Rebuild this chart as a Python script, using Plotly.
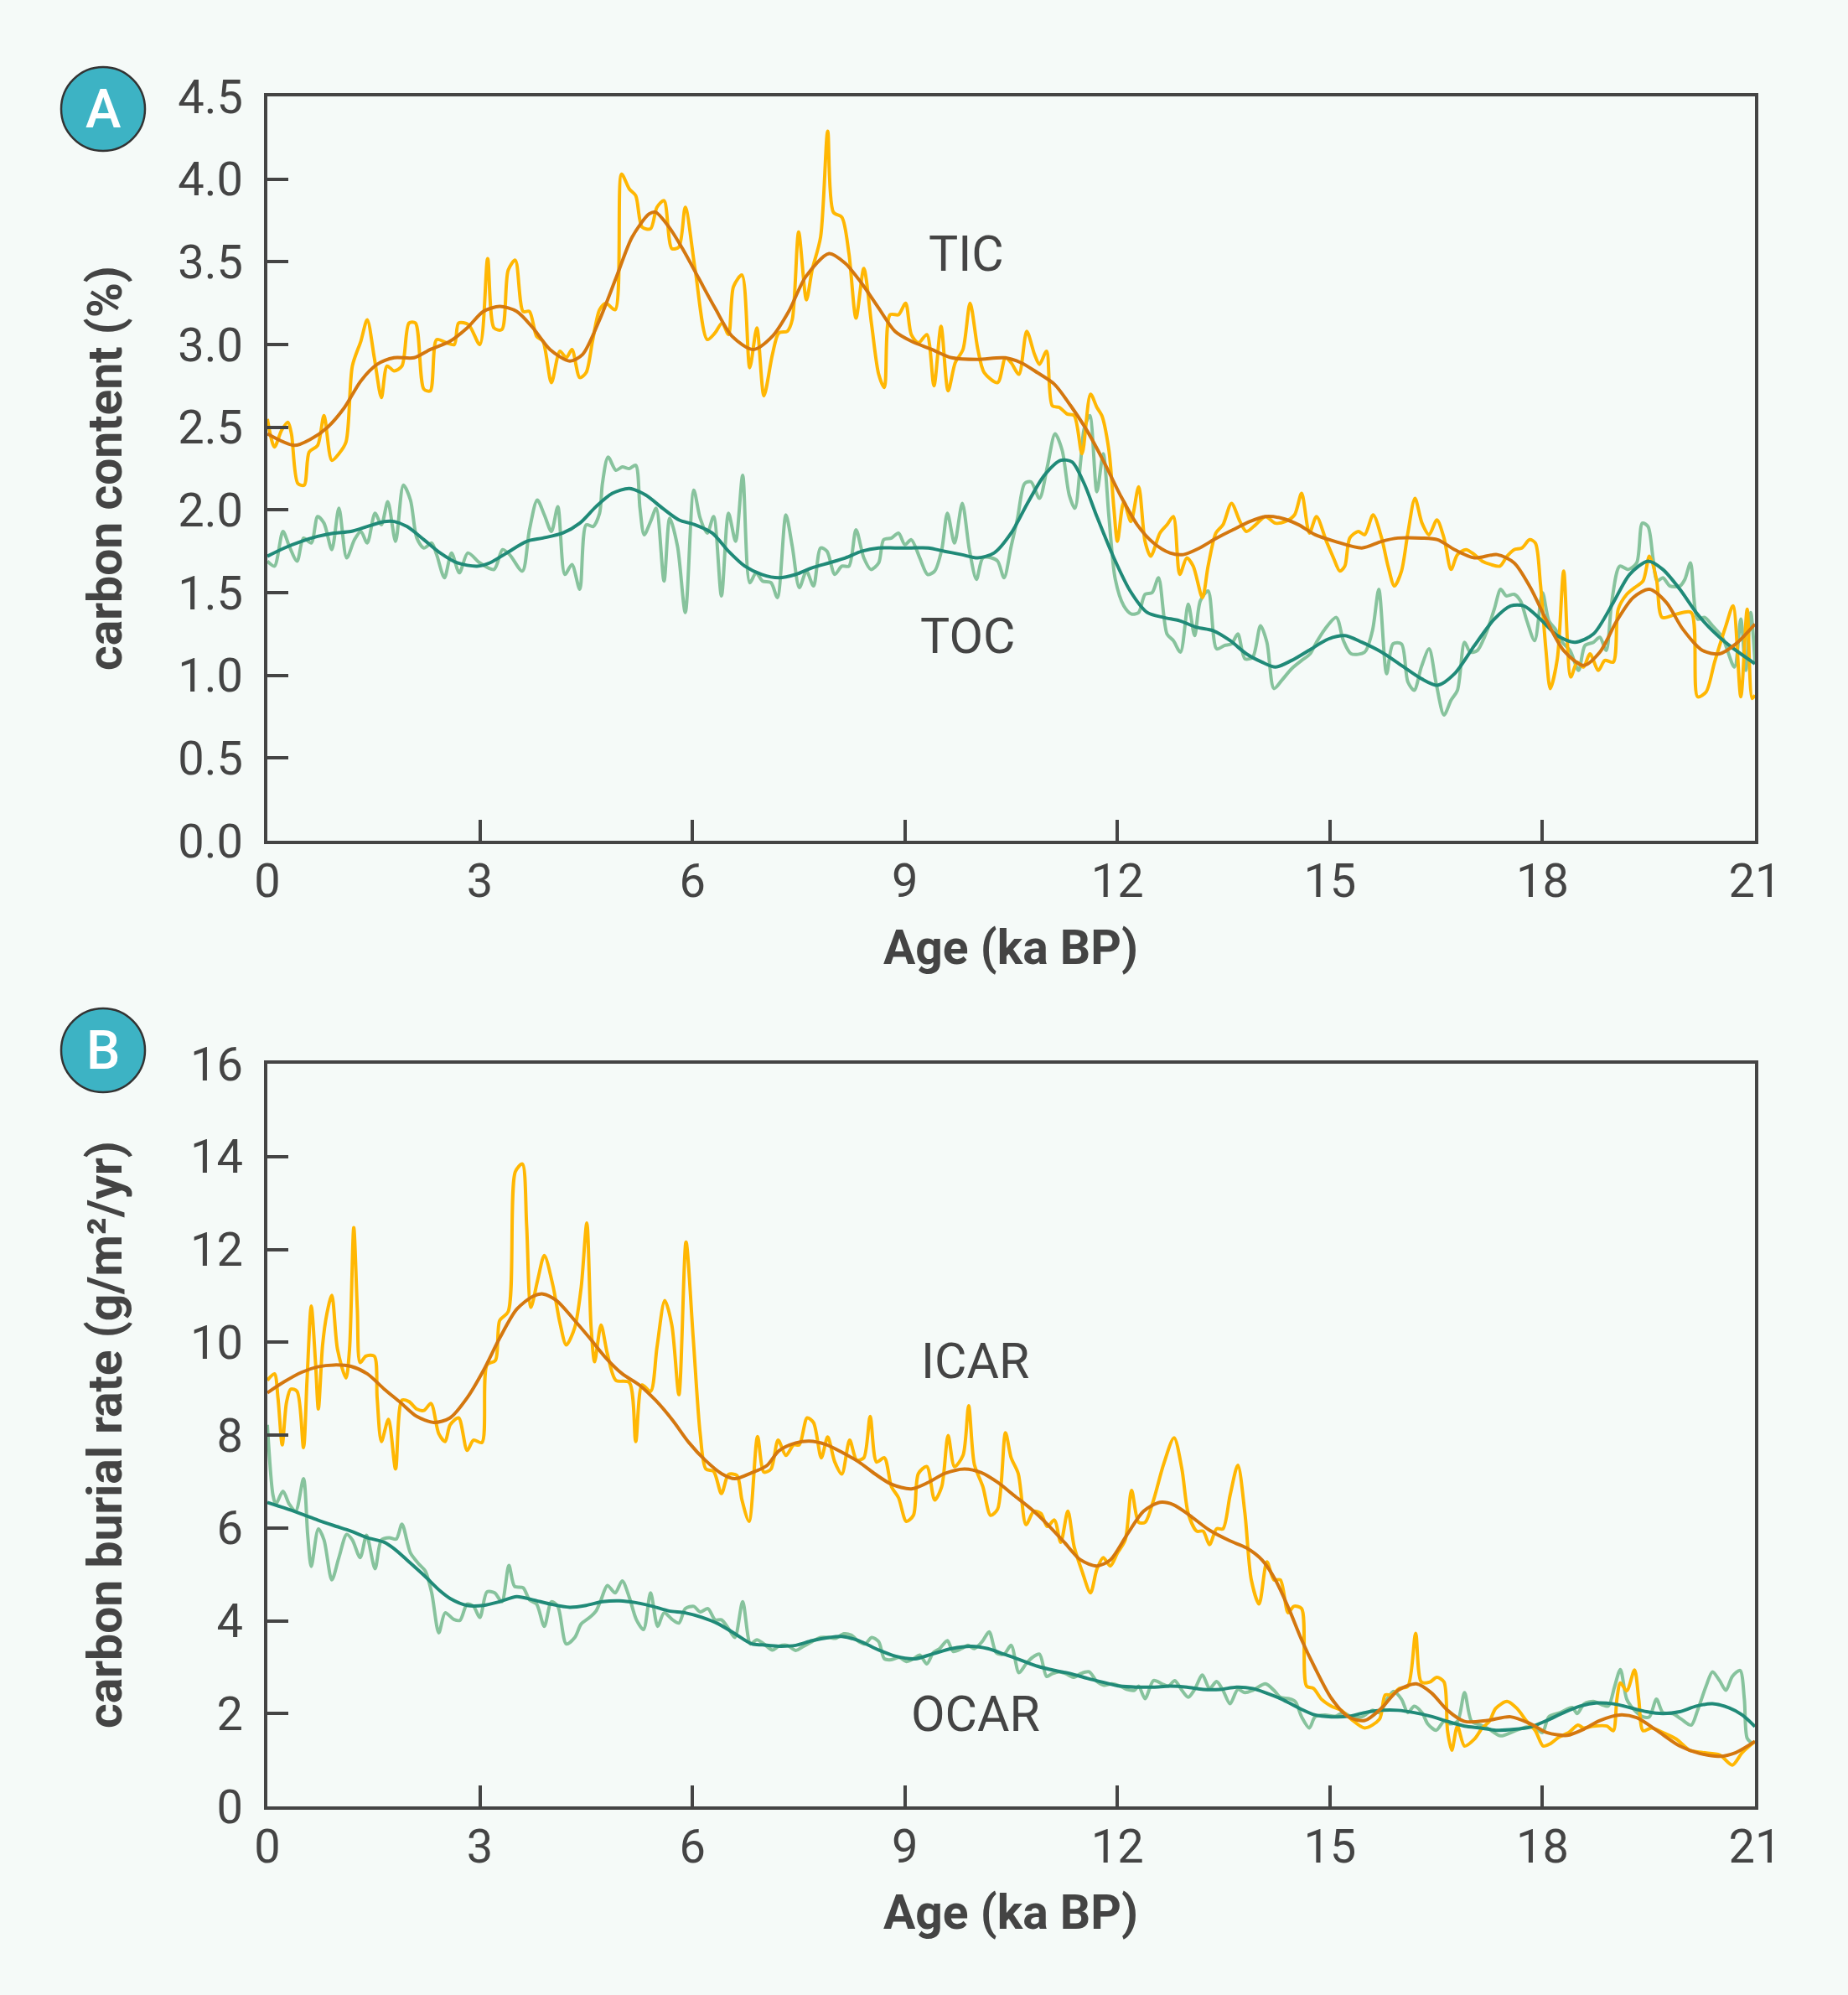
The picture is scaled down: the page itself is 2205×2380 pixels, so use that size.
import plotly.graph_objects as go

# ---------------- data ----------------
tic_age = [0.0, 0.10, 0.20, 0.29, 0.34, 0.43, 0.52, 0.59, 0.71, 0.80, 0.91, 1.01, 1.11, 1.20, 1.32, 1.41,
           1.51, 1.61, 1.69, 1.79, 1.90, 2.00, 2.09, 2.21, 2.30, 2.39, 2.53, 2.64, 2.70, 2.84, 3.00, 3.11,
           3.20, 3.31, 3.40, 3.50, 3.61, 3.70, 3.80, 3.89, 4.01, 4.13, 4.22, 4.30, 4.41, 4.50, 4.59, 4.69,
           4.78, 4.91, 5.00, 5.11, 5.20, 5.29, 5.41, 5.50, 5.60, 5.71, 5.81, 5.90, 6.04, 6.21, 6.32, 6.42,
           6.51, 6.58, 6.70, 6.81, 6.91, 7.01, 7.13, 7.22, 7.34, 7.41, 7.50, 7.61, 7.69, 7.81, 7.91, 7.99,
           8.11, 8.21, 8.31, 8.42, 8.53, 8.63, 8.71, 8.79, 8.91, 9.01, 9.09, 9.19, 9.31, 9.41, 9.51, 9.61,
           9.71, 9.82, 9.92, 10.03, 10.12, 10.31, 10.42, 10.50, 10.61, 10.72, 10.83, 10.90, 11.00, 11.08,
           11.18, 11.29, 11.39, 11.50, 11.62, 11.71, 11.78, 11.88, 11.95, 12.00, 12.09, 12.19, 12.30, 12.39,
           12.47, 12.60, 12.70, 12.79, 12.88, 12.98, 13.07, 13.20, 13.28, 13.39, 13.49, 13.61, 13.73, 13.82,
           13.95, 14.09, 14.23, 14.37, 14.50, 14.60, 14.71, 14.81, 14.95, 15.05, 15.14, 15.21, 15.28, 15.40,
           15.49, 15.61, 15.73, 15.82, 15.91, 16.01, 16.10, 16.20, 16.30, 16.40, 16.51, 16.61, 16.71, 16.80,
           16.92, 17.04, 17.15, 17.27, 17.40, 17.50, 17.60, 17.71, 17.82, 17.90, 17.97, 18.05, 18.11, 18.21,
           18.30, 18.40, 18.49, 18.58, 18.67, 18.79, 18.88, 19.00, 19.07, 19.19, 19.30, 19.42, 19.51, 19.61,
           19.69, 19.89, 20.10, 20.19, 20.31, 20.43, 20.59, 20.69, 20.80, 20.89, 20.96, 21.0]
tic_raw = [2.55, 2.38, 2.48, 2.53, 2.46, 2.16, 2.15, 2.35, 2.39, 2.57, 2.30, 2.34, 2.41, 2.87, 3.02, 3.15,
           2.92, 2.68, 2.87, 2.84, 2.87, 3.13, 3.13, 2.73, 2.72, 3.03, 3.01, 3.00, 3.13, 3.12, 3.00, 3.52,
           3.10, 3.09, 3.45, 3.51, 3.20, 3.20, 3.05, 3.02, 2.77, 2.96, 2.92, 2.97, 2.80, 2.83, 3.02, 3.21,
           3.25, 3.21, 4.03, 3.94, 3.90, 3.71, 3.70, 3.83, 3.87, 3.58, 3.59, 3.83, 3.45, 3.03, 3.07, 3.13,
           3.06, 3.35, 3.42, 2.86, 3.10, 2.69, 2.94, 3.07, 3.08, 3.15, 3.68, 3.27, 3.45, 3.65, 4.29, 3.80,
           3.77, 3.55, 3.16, 3.46, 3.12, 2.82, 2.74, 3.18, 3.18, 3.25, 3.06, 3.01, 3.06, 2.75, 3.11, 2.72,
           2.89, 2.97, 3.25, 2.97, 2.83, 2.77, 2.92, 2.89, 2.82, 3.08, 2.94, 2.88, 2.96, 2.63,
           2.62, 2.58, 2.57, 2.34, 2.70, 2.62, 2.57, 2.36, 2.01, 1.81, 2.05, 1.93, 2.14, 1.81,
           1.72, 1.86, 1.91, 1.96, 1.61, 1.71, 1.66, 1.47, 1.66, 1.86, 1.91, 2.04, 1.93, 1.87,
           1.91, 1.96, 1.92, 1.93, 1.97, 2.10, 1.86, 1.96, 1.81, 1.71, 1.63, 1.66, 1.83, 1.87,
           1.85, 1.97, 1.83, 1.66, 1.54, 1.63, 1.86, 2.07, 1.92, 1.85, 1.94, 1.83, 1.64, 1.73,
           1.76, 1.73, 1.69, 1.67, 1.66, 1.72, 1.76, 1.77, 1.82, 1.80, 1.56, 1.15, 0.92, 1.10,
           1.63, 0.99, 1.08, 1.05, 1.13, 1.03, 1.09, 1.08, 1.40, 1.49, 1.53, 1.57, 1.72, 1.58,
           1.35, 1.37, 1.38, 0.87, 0.90, 1.08, 1.30, 1.42, 0.87, 1.40, 0.86, 0.88]

tic_s_age = [0.0, 0.38, 0.62, 0.85, 1.09, 1.32, 1.55, 1.79, 2.07, 2.30, 2.58, 2.82, 3.05, 3.28, 3.52, 3.75,
             3.99, 4.27, 4.45, 4.69, 4.92, 5.15, 5.39, 5.48, 5.67, 5.86, 6.09, 6.32, 6.56, 6.86, 7.13, 7.36,
             7.60, 7.93, 8.16, 8.39, 8.63, 8.86, 9.09, 9.38, 9.66, 10.03, 10.40, 10.64, 10.87, 11.11, 11.34,
             11.57, 11.81, 12.04, 12.28, 12.51, 12.74, 12.93, 13.16, 13.40, 13.63, 13.87, 14.09, 14.32, 14.56,
             14.79, 15.07, 15.45, 15.73, 15.96, 16.29, 16.52, 16.76, 17.04, 17.36, 17.60, 17.83, 18.06, 18.30,
             18.58, 18.81, 19.05, 19.28, 19.51, 19.75, 19.98, 20.26, 20.50, 20.73, 21.0]
tic_smooth = [2.46, 2.39, 2.43, 2.50, 2.62, 2.78, 2.88, 2.92, 2.92, 2.97, 3.02, 3.10, 3.20, 3.23, 3.20, 3.10,
              2.97, 2.90, 2.94, 3.15, 3.40, 3.65, 3.79, 3.80, 3.71, 3.58, 3.40, 3.22, 3.05, 2.97, 3.05, 3.20,
              3.41, 3.55, 3.49, 3.37, 3.22, 3.08, 3.02, 2.97, 2.92, 2.91, 2.92, 2.89, 2.83, 2.76, 2.63,
              2.48, 2.29, 2.09, 1.91, 1.80, 1.74, 1.73, 1.77, 1.83, 1.88, 1.93, 1.96, 1.95, 1.91,
              1.85, 1.81, 1.77, 1.81, 1.83, 1.83, 1.82, 1.76, 1.71, 1.73, 1.68, 1.53, 1.33, 1.15,
              1.06, 1.14, 1.33, 1.47, 1.52, 1.44, 1.28, 1.15, 1.13, 1.19, 1.31]

toc_age = [0.0, 0.10, 0.22, 0.31, 0.42, 0.51, 0.62, 0.71, 0.80, 0.91, 1.01, 1.12, 1.23, 1.32, 1.41, 1.52,
           1.61, 1.70, 1.81, 1.92, 2.02, 2.11, 2.21, 2.32, 2.39, 2.50, 2.60, 2.71, 2.83, 3.00, 3.20, 3.32,
           3.42, 3.60, 3.70, 3.81, 3.91, 4.01, 4.10, 4.20, 4.30, 4.41, 4.50, 4.60, 4.69, 4.73, 4.81, 4.92,
           5.01, 5.11, 5.20, 5.26, 5.32, 5.41, 5.49, 5.60, 5.68, 5.79, 5.90, 6.02, 6.11, 6.21, 6.30, 6.41,
           6.51, 6.61, 6.71, 6.81, 6.90, 6.99, 7.11, 7.20, 7.32, 7.41, 7.51, 7.61, 7.71, 7.81, 7.90, 8.01,
           8.11, 8.21, 8.31, 8.42, 8.52, 8.63, 8.70, 8.81, 8.91, 9.00, 9.09, 9.21, 9.32, 9.42, 9.52, 9.60,
           9.70, 9.81, 9.91, 10.01, 10.10, 10.22, 10.31, 10.40, 10.50, 10.59, 10.69, 10.78, 10.90, 11.01,
           11.12, 11.22, 11.32, 11.40, 11.48, 11.53, 11.61, 11.71, 11.80, 11.88, 11.97, 12.09, 12.20, 12.30,
           12.39, 12.49, 12.58, 12.70, 12.79, 12.89, 13.00, 13.09, 13.17, 13.28, 13.40, 13.51, 13.61, 13.70,
           13.80, 13.91, 14.02, 14.11, 14.21, 14.32, 14.46, 14.60, 14.72, 14.81, 14.93, 15.09, 15.19, 15.30,
           15.49, 15.60, 15.69, 15.80, 15.89, 16.01, 16.10, 16.19, 16.29, 16.40, 16.50, 16.61, 16.71, 16.80,
           16.90, 16.98, 17.08, 17.20, 17.32, 17.41, 17.49, 17.60, 17.69, 17.78, 17.89, 18.00, 18.09, 18.18,
           18.28, 18.39, 18.51, 18.60, 18.72, 18.81, 18.90, 18.98, 19.09, 19.21, 19.33, 19.41, 19.49, 19.56,
           19.62, 19.70, 19.80, 19.94, 20.01, 20.09, 20.19, 20.29, 20.40, 20.54, 20.71, 20.80, 20.87, 20.94,
           21.0]
toc_raw = [1.69, 1.66, 1.87, 1.78, 1.69, 1.83, 1.80, 1.96, 1.92, 1.76, 2.01, 1.71, 1.82, 1.87, 1.80, 1.98,
           1.91, 2.05, 1.81, 2.15, 2.06, 1.83, 1.77, 1.80, 1.73, 1.59, 1.74, 1.62, 1.74, 1.68, 1.64, 1.76,
           1.73, 1.63, 1.88, 2.06, 1.97, 1.87, 2.02, 1.61, 1.67, 1.52, 1.91, 1.90, 1.98, 2.16, 2.32, 2.24,
           2.26, 2.25, 2.27, 2.01, 1.85, 1.93, 2.01, 1.57, 1.95, 1.78, 1.38, 2.12, 1.95, 1.86, 1.96, 1.48,
           1.98, 1.81, 2.21, 1.56, 1.62, 1.57, 1.56, 1.47, 1.97, 1.78, 1.53, 1.63, 1.54, 1.77, 1.75, 1.61,
           1.66, 1.66, 1.88, 1.71, 1.64, 1.68, 1.82, 1.83, 1.86, 1.79, 1.82, 1.71, 1.61, 1.63, 1.76, 1.98,
           1.80, 2.04, 1.76, 1.58, 1.71, 1.71, 1.69, 1.59, 1.78, 1.95, 2.16, 2.17, 2.07, 2.26,
           2.46, 2.36, 2.09, 2.01, 2.29, 2.49, 2.57, 2.11, 2.34, 1.96, 1.58, 1.42, 1.37, 1.38,
           1.49, 1.50, 1.59, 1.25, 1.21, 1.14, 1.43, 1.24, 1.45, 1.51, 1.16, 1.18, 1.19, 1.25,
           1.10, 1.11, 1.30, 1.20, 0.92, 0.97, 1.04, 1.09, 1.13, 1.20, 1.28, 1.35, 1.21, 1.13,
           1.14, 1.27, 1.52, 1.01, 1.19, 1.19, 0.96, 0.91, 1.05, 1.16, 0.95, 0.76, 0.85, 0.91,
           1.20, 1.14, 1.15, 1.25, 1.40, 1.52, 1.48, 1.49, 1.45, 1.33, 1.21, 1.50, 1.33, 1.28,
           1.20, 1.15, 1.03, 1.18, 1.20, 1.23, 1.15, 1.45, 1.66, 1.64, 1.68, 1.92, 1.90, 1.71,
           1.57, 1.59, 1.54, 1.54, 1.58, 1.68, 1.34, 1.35, 1.30, 1.23, 1.05, 1.34, 1.03, 1.38,
           1.08]

toc_s_age = [0.0, 0.24, 0.48, 0.71, 0.94, 1.18, 1.41, 1.65, 1.79, 1.97, 2.21, 2.44, 2.68, 2.96, 3.14, 3.38,
             3.66, 3.89, 4.17, 4.41, 4.64, 4.87, 5.11, 5.34, 5.58, 5.81, 6.04, 6.28, 6.51, 6.74, 6.98, 7.22,
             7.46, 7.69, 7.93, 8.16, 8.39, 8.63, 8.86, 9.09, 9.33, 9.56, 9.80, 10.03, 10.26, 10.50, 10.73,
             10.97, 11.20, 11.36, 11.53, 11.71, 11.95, 12.18, 12.42, 12.65, 12.88, 13.12, 13.35, 13.59, 13.82,
             14.04, 14.23, 14.46, 14.70, 14.98, 15.21, 15.45, 15.73, 16.01, 16.29, 16.52, 16.76, 17.04, 17.32,
             17.55, 17.74, 17.97, 18.21, 18.46, 18.72, 19.00, 19.23, 19.49, 19.70, 19.94, 20.17, 20.40, 20.64,
             21.0]
toc_smooth = [1.72, 1.77, 1.81, 1.84, 1.86, 1.87, 1.90, 1.93, 1.93, 1.90, 1.82, 1.74, 1.68, 1.66, 1.68, 1.74,
              1.81, 1.83, 1.86, 1.92, 2.02, 2.10, 2.13, 2.09, 2.01, 1.94, 1.91, 1.86, 1.75, 1.66, 1.61, 1.59,
              1.61, 1.65, 1.68, 1.71, 1.75, 1.77, 1.77, 1.77, 1.77, 1.75, 1.73, 1.71, 1.74, 1.86, 2.04,
              2.21, 2.30, 2.29, 2.16, 1.96, 1.71, 1.51, 1.38, 1.35, 1.33, 1.29, 1.27, 1.21, 1.13,
              1.08, 1.05, 1.09, 1.15, 1.22, 1.24, 1.20, 1.14, 1.06, 0.98, 0.94, 1.01, 1.18, 1.34,
              1.42, 1.42, 1.34, 1.24, 1.20, 1.25, 1.44, 1.61, 1.69, 1.64, 1.52, 1.38, 1.27, 1.18,
              1.07]

icar_age = [0.0, 0.10, 0.15, 0.21, 0.27, 0.33, 0.42, 0.51, 0.56, 0.62, 0.68, 0.72, 0.78, 0.84, 0.91, 0.99,
            1.11, 1.16, 1.22, 1.27, 1.31, 1.39, 1.51, 1.55, 1.61, 1.71, 1.81, 1.90, 2.00, 2.11, 2.21, 2.31,
            2.42, 2.51, 2.58, 2.70, 2.82, 2.91, 3.03, 3.10, 3.22, 3.28, 3.40, 3.50, 3.60, 3.66, 3.72, 3.82,
            3.91, 4.03, 4.13, 4.22, 4.34, 4.43, 4.51, 4.57, 4.62, 4.71, 4.80, 4.92, 5.11, 5.20, 5.29, 5.41,
            5.50, 5.61, 5.71, 5.81, 5.91, 6.01, 6.11, 6.19, 6.30, 6.41, 6.51, 6.63, 6.70, 6.80, 6.92, 7.01,
            7.11, 7.21, 7.32, 7.43, 7.51, 7.62, 7.71, 7.82, 7.91, 8.01, 8.11, 8.22, 8.32, 8.42, 8.51, 8.60,
            8.71, 8.81, 8.91, 9.02, 9.12, 9.19, 9.31, 9.42, 9.52, 9.61, 9.70, 9.82, 9.90, 9.98, 10.10, 10.21,
            10.31, 10.42, 10.50, 10.60, 10.71, 10.82, 10.92, 11.01, 11.11, 11.20, 11.30, 11.39, 11.50, 11.62,
            11.71, 11.80, 11.90, 12.00, 12.11, 12.20, 12.30, 12.39, 12.51, 12.65, 12.80, 12.91, 13.00, 13.12,
            13.21, 13.30, 13.40, 13.49, 13.59, 13.70, 13.80, 13.89, 14.00, 14.11, 14.21, 14.30, 14.41, 14.49,
            14.60, 14.67, 14.77, 14.88, 15.02, 15.16, 15.30, 15.49, 15.70, 15.78, 15.87, 15.98, 16.10, 16.21,
            16.29, 16.41, 16.51, 16.61, 16.66, 16.72, 16.80, 16.90, 17.04, 17.15, 17.25, 17.34, 17.50, 17.64,
            17.78, 17.90, 18.01, 18.11, 18.23, 18.37, 18.50, 18.58, 18.72, 18.91, 19.00, 19.05, 19.10, 19.19,
            19.30, 19.36, 19.42, 19.54, 19.70, 19.89, 20.08, 20.26, 20.50, 20.68, 20.82, 21.0]
icar_raw = [9.18, 9.32, 8.80, 7.79, 8.70, 8.99, 8.94, 7.73, 9.18, 10.78, 9.56, 8.56, 9.94, 10.61, 11.01, 9.85,
            9.23, 9.85, 12.47, 10.71, 9.56, 9.70, 9.70, 8.80, 7.86, 8.34, 7.27, 8.75, 8.72, 8.56, 8.53, 8.68,
            8.03, 7.86, 8.22, 8.37, 7.67, 7.89, 7.84, 9.51, 9.61, 10.47, 10.66, 13.67, 13.84, 12.52, 10.75, 11.37,
            11.87, 11.23, 10.42, 9.94, 10.32, 11.18, 12.57, 10.32, 9.58, 10.37, 9.75, 9.18, 9.13, 7.86, 9.08, 8.94,
            9.89, 10.90, 10.37, 8.87, 12.16, 10.13, 8.03, 7.27, 7.22, 6.74, 7.15, 7.13, 6.60, 6.14, 7.97, 7.20,
            7.27, 7.89, 7.56, 7.79, 7.79, 8.37, 8.27, 7.51, 7.96, 7.42, 7.16, 7.89, 7.46, 7.51, 8.40, 7.42,
            7.51, 6.89, 6.65, 6.14, 6.27, 7.17, 7.32, 6.60, 6.89, 7.99, 7.32, 7.56, 8.63, 7.37, 6.89, 6.27,
            6.41, 8.05, 7.51, 7.17, 6.07, 6.36, 6.31, 6.03, 6.17, 5.69, 6.36, 5.59, 5.07, 4.60,
            5.11, 5.36, 5.18, 5.46, 5.74, 6.81, 6.12, 6.12, 6.60, 7.36, 7.94, 7.27, 6.31, 5.93,
            5.93, 5.64, 5.98, 5.98, 6.70, 7.35, 6.31, 4.88, 4.36, 5.27, 4.88, 4.88, 4.17, 4.31,
            4.26, 2.59, 2.54, 2.31, 2.16, 2.07, 1.88, 1.69, 1.88, 2.40, 2.40, 2.54, 2.59, 3.73,
            2.68, 2.68, 2.78, 2.68, 1.63, 1.21, 1.73, 1.30, 1.45, 1.69, 1.83, 2.11, 2.26, 2.11,
            1.83, 1.63, 1.30, 1.35, 1.49, 1.59, 1.75, 1.69, 1.73, 1.73, 1.63, 2.30, 2.66, 2.49,
            2.94, 2.30, 1.63, 1.69, 1.59, 1.45, 1.21, 1.16, 1.11, 0.89, 1.16, 1.40]

icar_s_age = [0.0, 0.24, 0.48, 0.71, 0.94, 1.18, 1.41, 1.65, 1.88, 2.11, 2.35, 2.58, 2.82, 3.05, 3.28, 3.52,
              3.75, 3.89, 4.08, 4.31, 4.55, 4.78, 5.01, 5.25, 5.48, 5.72, 5.95, 6.18, 6.42, 6.60, 6.84, 7.05,
              7.22, 7.46, 7.65, 7.88, 8.11, 8.35, 8.58, 8.81, 9.09, 9.33, 9.56, 9.84, 10.08, 10.31, 10.54,
              10.78, 11.01, 11.25, 11.48, 11.71, 11.90, 12.13, 12.37, 12.60, 12.79, 13.02, 13.30, 13.59, 13.82,
              14.04, 14.23, 14.42, 14.60, 14.79, 15.02, 15.26, 15.49, 15.73, 15.96, 16.22, 16.43, 16.66, 16.90,
              17.22, 17.55, 17.83, 18.06, 18.35, 18.58, 18.81, 19.09, 19.33, 19.61, 19.94, 20.22, 20.50, 20.73,
              21.0]
icar_smooth = [8.91, 9.15, 9.35, 9.47, 9.51, 9.48, 9.32, 8.99, 8.70, 8.40, 8.27, 8.37, 8.80, 9.39, 10.09, 10.71,
               10.99, 11.04, 10.90, 10.52, 10.09, 9.66, 9.32, 9.08, 8.75, 8.32, 7.84, 7.46, 7.16, 7.06, 7.19, 7.34,
               7.66, 7.83, 7.87, 7.80, 7.63, 7.42, 7.16, 6.94, 6.84, 6.98, 7.17, 7.27, 7.19, 6.98, 6.70,
               6.41, 6.08, 5.69, 5.31, 5.18, 5.31, 5.84, 6.36, 6.55, 6.50, 6.27, 5.95, 5.72, 5.57,
               5.31, 4.88, 4.26, 3.59, 2.98, 2.33, 1.93, 1.85, 2.12, 2.50, 2.64, 2.45, 2.07, 1.83,
               1.85, 1.93, 1.78, 1.59, 1.53, 1.66, 1.85, 1.97, 1.91, 1.64, 1.30, 1.14, 1.08, 1.16,
               1.40]

ocar_age = [0.0, 0.08, 0.12, 0.22, 0.31, 0.40, 0.51, 0.57, 0.62, 0.72, 0.80, 0.91, 1.01, 1.12, 1.20, 1.31,
            1.40, 1.52, 1.61, 1.72, 1.82, 1.90, 2.02, 2.14, 2.23, 2.32, 2.42, 2.51, 2.63, 2.72, 2.82, 2.91,
            3.00, 3.10, 3.21, 3.31, 3.41, 3.49, 3.61, 3.70, 3.80, 3.91, 4.01, 4.10, 4.22, 4.34, 4.43, 4.55,
            4.64, 4.71, 4.80, 4.91, 5.01, 5.11, 5.21, 5.31, 5.41, 5.51, 5.60, 5.72, 5.81, 5.90, 6.02, 6.11,
            6.22, 6.32, 6.41, 6.51, 6.60, 6.71, 6.82, 6.91, 7.01, 7.13, 7.22, 7.34, 7.46, 7.57, 7.69, 7.81,
            7.93, 8.02, 8.14, 8.24, 8.35, 8.44, 8.53, 8.63, 8.71, 8.81, 8.92, 9.02, 9.12, 9.21, 9.31, 9.40,
            9.49, 9.60, 9.68, 9.80, 9.89, 9.98, 10.09, 10.19, 10.29, 10.40, 10.50, 10.61, 10.71, 10.80, 10.90,
            11.00, 11.08, 11.18, 11.27, 11.39, 11.48, 11.60, 11.71, 11.81, 11.92, 12.04, 12.13, 12.24, 12.30,
            12.39, 12.51, 12.63, 12.72, 12.81, 12.91, 13.00, 13.09, 13.20, 13.30, 13.40, 13.49, 13.59, 13.70,
            13.80, 13.91, 14.09, 14.21, 14.30, 14.42, 14.51, 14.60, 14.71, 14.79, 14.93, 15.07, 15.19, 15.30,
            15.45, 15.60, 15.70, 15.81, 15.90, 16.01, 16.10, 16.19, 16.30, 16.38, 16.50, 16.61, 16.69, 16.80,
            16.90, 17.00, 17.13, 17.25, 17.41, 17.60, 17.78, 17.90, 18.00, 18.09, 18.25, 18.42, 18.49, 18.59,
            18.72, 18.84, 18.93, 19.02, 19.10, 19.19, 19.30, 19.42, 19.51, 19.61, 19.70, 19.84, 19.96, 20.10,
            20.19, 20.31, 20.40, 20.50, 20.59, 20.68, 20.79, 20.85, 20.89, 20.96, 21.0]
ocar_raw = [8.22, 6.70, 6.51, 6.79, 6.51, 6.36, 7.06, 5.84, 5.17, 5.98, 5.74, 4.88, 5.36, 5.86, 5.74, 5.36,
            5.84, 5.12, 5.74, 5.79, 5.76, 6.08, 5.46, 5.22, 5.07, 4.60, 3.74, 4.17, 4.03, 4.01, 4.36, 4.31,
            4.07, 4.62, 4.60, 4.41, 5.19, 4.74, 4.71, 4.45, 4.36, 3.88, 4.41, 4.31, 3.50, 3.64, 3.93, 4.07,
            4.21, 4.45, 4.76, 4.60, 4.86, 4.50, 4.02, 3.81, 4.60, 3.88, 4.17, 4.02, 3.95, 4.26, 4.31, 4.19,
            4.26, 4.02, 4.02, 3.83, 3.64, 4.41, 3.50, 3.59, 3.50, 3.37, 3.45, 3.47, 3.36, 3.45, 3.55, 3.64,
            3.64, 3.62, 3.72, 3.69, 3.55, 3.50, 3.64, 3.55, 3.18, 3.16, 3.21, 3.12, 3.18, 3.26, 3.07, 3.31,
            3.40, 3.57, 3.34, 3.40, 3.47, 3.40, 3.55, 3.76, 3.31, 3.28, 3.47, 2.88, 3.07, 3.21, 3.28,
            2.80, 2.86, 2.90, 2.86, 2.78, 2.86, 2.90, 2.69, 2.61, 2.64, 2.59, 2.52, 2.50, 2.59,
            2.32, 2.71, 2.64, 2.59, 2.71, 2.50, 2.35, 2.52, 2.83, 2.54, 2.69, 2.50, 2.21, 2.52,
            2.45, 2.50, 2.64, 2.50, 2.35, 2.32, 2.26, 1.93, 1.69, 1.93, 1.97, 1.94, 2.02, 1.93,
            1.93, 2.07, 2.02, 2.32, 2.48, 2.31, 2.02, 2.16, 2.02, 1.78, 1.64, 1.83, 1.78, 1.83,
            2.45, 1.83, 1.75, 1.66, 1.52, 1.62, 1.71, 1.69, 1.59, 1.93, 2.02, 2.13, 2.00, 2.21,
            2.26, 2.19, 2.16, 2.59, 2.95, 2.31, 2.07, 1.93, 1.93, 2.31, 2.02, 2.00, 1.88, 1.75,
            2.07, 2.59, 2.90, 2.71, 2.50, 2.80, 2.93, 2.31, 1.47, 1.37, 1.40]

ocar_s_age = [0.0, 0.24, 0.48, 0.71, 0.94, 1.18, 1.41, 1.65, 1.79, 1.97, 2.21, 2.44, 2.58, 2.82, 3.05, 3.28,
              3.52, 3.75, 3.99, 4.27, 4.50, 4.73, 4.97, 5.20, 5.44, 5.67, 5.90, 6.14, 6.37, 6.60, 6.84, 6.99,
              7.22, 7.46, 7.69, 7.93, 8.11, 8.35, 8.63, 8.86, 9.14, 9.38, 9.66, 9.94, 10.17, 10.40, 10.64,
              10.87, 11.11, 11.34, 11.57, 11.81, 12.04, 12.28, 12.51, 12.74, 12.98, 13.21, 13.45, 13.68, 13.91,
              14.09, 14.32, 14.56, 14.79, 15.02, 15.26, 15.49, 15.73, 15.96, 16.19, 16.43, 16.66, 16.90, 17.13,
              17.36, 17.60, 17.83, 18.06, 18.30, 18.53, 18.77, 19.00, 19.23, 19.47, 19.70, 19.94, 20.17, 20.40,
              20.64, 20.82, 21.0]
ocar_smooth = [6.55, 6.43, 6.30, 6.17, 6.05, 5.93, 5.79, 5.69, 5.55, 5.31, 4.98, 4.64, 4.48, 4.33, 4.33, 4.41,
               4.52, 4.45, 4.36, 4.29, 4.33, 4.41, 4.43, 4.39, 4.31, 4.21, 4.17, 4.07, 3.93, 3.72, 3.50, 3.48,
               3.45, 3.47, 3.57, 3.64, 3.66, 3.57, 3.37, 3.24, 3.18, 3.28, 3.40, 3.45, 3.40, 3.28, 3.15,
               3.02, 2.93, 2.86, 2.76, 2.67, 2.59, 2.57, 2.57, 2.59, 2.57, 2.52, 2.52, 2.57, 2.54,
               2.45, 2.31, 2.12, 1.97, 1.93, 1.94, 2.02, 2.07, 2.07, 2.02, 1.94, 1.83, 1.73, 1.69,
               1.64, 1.66, 1.71, 1.85, 2.02, 2.16, 2.23, 2.21, 2.13, 2.04, 2.00, 2.04, 2.16, 2.21,
               2.12, 1.97, 1.72]

x_ticks = [0, 3, 6, 9, 12, 15, 18, 21]
series_labels = {"TIC": (9.87, 3.55), "TOC": (9.88, 1.24), "ICAR": (9.99, 9.59), "OCAR": (10.0, 1.99)}

# ---------------- styling ----------------
W, H = 2205, 2380
BG = "#f5faf8"
AX = "#444444"
C_RAW_I, C_SM_I = "#ffb703", "#d4770f"
C_RAW_O, C_SM_O = "#87c39d", "#208a78"
LW = 4


def fx(px):
    return px / W


def fy(py):
    return 1 - py / H


fig = go.Figure()


def add_line(x, y, color, xa, ya):
    fig.add_trace(go.Scatter(x=x, y=y, mode="lines", xaxis=xa, yaxis=ya,
                             line=dict(color=color, width=LW, shape="spline", smoothing=0.8),
                             hoverinfo="skip", showlegend=False))


add_line(toc_age, toc_raw, C_RAW_O, "x", "y")
add_line(tic_age, tic_raw, C_RAW_I, "x", "y")
add_line(toc_s_age, toc_smooth, C_SM_O, "x", "y")
add_line(tic_s_age, tic_smooth, C_SM_I, "x", "y")

add_line(ocar_age, ocar_raw, C_RAW_O, "x2", "y2")
add_line(icar_age, icar_raw, C_RAW_I, "x2", "y2")
add_line(ocar_s_age, ocar_smooth, C_SM_O, "x2", "y2")
add_line(icar_s_age, icar_smooth, C_SM_I, "x2", "y2")

tickfont = dict(family="Roboto", size=56, color=AX)
common = dict(showline=True, linecolor=AX, linewidth=3.5, mirror=True, ticks="inside",
              ticklen=25, tickwidth=3.5, tickcolor=AX, showgrid=False, zeroline=False,
              tickfont=tickfont, automargin=False)

xdom = [fx(319), fx(2094)]
fig.update_layout(
    template="none",
    width=W, height=H, paper_bgcolor=BG, plot_bgcolor=BG,
    margin=dict(l=0, r=0, t=0, b=0, pad=0, autoexpand=False),
    xaxis=dict(domain=xdom, anchor="y", range=[0, 21], tickvals=x_ticks, ticklabelstandoff=-4, **common),
    yaxis=dict(domain=[fy(1003), fy(115)], anchor="x", range=[0, 4.5], dtick=0.5, tickformat=".1f",
               ticklabelstandoff=14, **common),
    xaxis2=dict(domain=xdom, anchor="y2", range=[0, 21], tickvals=x_ticks, ticklabelstandoff=-4, **common),
    yaxis2=dict(domain=[fy(2155), fy(1269)], anchor="x2", range=[0, 16], dtick=2,
                ticklabelstandoff=14, **common),
)

ann = []
title_font = dict(family="Roboto", size=57, color=AX, weight="bold")
for txt, cx, cy, ang in [("carbon content (%)", 125, 559, -90),
                         ("carbon burial rate (g/m²/yr)", 125, 1712, -90),
                         ("Age (ka BP)", 1206, 1130, 0),
                         ("Age (ka BP)", 1206, 2281, 0)]:
    ann.append(dict(text=txt, x=fx(cx), y=fy(cy), xref="paper", yref="paper", showarrow=False,
                    textangle=ang, xanchor="center", yanchor="middle", font=title_font))

lab_font = dict(family="Roboto", size=59, color=AX)
for name, (lx, ly) in series_labels.items():
    xr, yr = ("x", "y") if name in ("TIC", "TOC") else ("x2", "y2")
    ann.append(dict(text=name, x=lx, y=ly, xref=xr, yref=yr, showarrow=False,
                    xanchor="center", yanchor="middle", font=lab_font))

shapes = []
for letter, cx, cy in [("A", 123, 130), ("B", 123, 1253)]:
    r = 50
    shapes.append(dict(type="circle", xref="paper", yref="paper",
                       x0=fx(cx - r), x1=fx(cx + r), y0=fy(cy + r), y1=fy(cy - r),
                       fillcolor="#3db3c4", line=dict(color="#333333", width=2.5)))
    ann.append(dict(text=letter, x=fx(cx), y=fy(cy), xref="paper", yref="paper", showarrow=False,
                    xanchor="center", yanchor="middle",
                    font=dict(family="Roboto", size=64, color="white", weight=500)))

fig.update_layout(annotations=ann, shapes=shapes)
fig.write_html("out.html", config={"displayModeBar": False},
               post_script="document.body.style.margin='0';document.body.style.background='%s';" % BG)
